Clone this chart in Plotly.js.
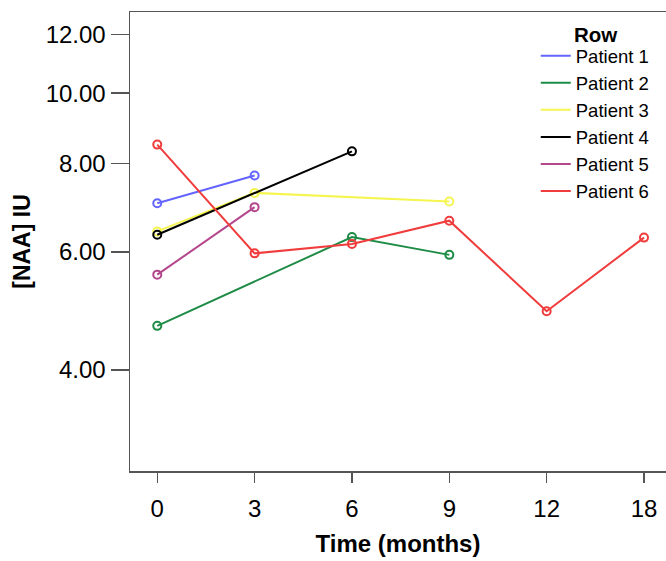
<!DOCTYPE html>
<html>
<head>
<meta charset="utf-8">
<script src="https://cdn.plot.ly/plotly-3.0.1.min.js"></script>
<style>html,body{margin:0;padding:0;background:#fff;}#chart{width:666px;height:561px;}</style>
</head>
<body>
<div id="chart"></div>
<script>
// Time categories (months)
const timeCats = ["0", "3", "6", "9", "12", "18"];

// Series: [NAA] IU per patient at each time point
const p1Times = ["0", "3"];
const p1Vals  = [7.04, 7.70];
const p2Times = ["0", "6", "9"];
const p2Vals  = [4.67, 6.30, 5.94];
const p3Times = ["0", "3", "9"];
const p3Vals  = [6.42, 7.28, 7.08];
const p4Times = ["0", "6"];
const p4Vals  = [6.35, 8.32];
const p5Times = ["0", "3"];
const p5Vals  = [5.56, 6.95];
const p6Times = ["0", "3", "6", "9", "12", "18"];
const p6Vals  = [8.50, 5.97, 6.16, 6.65, 4.91, 6.29];

const names = ["Patient 1", "Patient 2", "Patient 3", "Patient 4", "Patient 5", "Patient 6"];
const colors = ["#6464ff", "#1e8c46", "#f5f550", "#000000", "#b4468c", "#f03c3c"];

// Y tick labels
const yTickVals = [4, 6, 8, 10, 12];
const yTickText = ["4.00", "6.00", "8.00", "10.00", "12.00"];

// The original uses a "safe log" scale: position ~ log(1 + value).
const safe = v => v + 1;

const series = [
  [p1Times, p1Vals], [p2Times, p2Vals], [p3Times, p3Vals],
  [p4Times, p4Vals], [p5Times, p5Vals], [p6Times, p6Vals]
];

const traces = [];
series.forEach((s, i) => {
  traces.push({
    type: "scatter", mode: "lines+markers",
    x: s[0], y: s[1].map(safe), customdata: s[1],
    name: names[i], legendgroup: names[i], showlegend: false,
    line: {color: colors[i], width: 2},
    marker: {symbol: "circle-open", size: 8, color: colors[i], line: {width: 2, color: colors[i]}},
    hovertemplate: "%{x}: %{customdata:.2f}<extra>" + names[i] + "</extra>"
  });
});
// legend entries (line only)
series.forEach((s, i) => {
  traces.push({
    type: "scatter", mode: "lines", x: [timeCats[0]], y: [null],
    name: names[i], legendgroup: names[i], showlegend: true,
    line: {color: colors[i], width: 2}, hoverinfo: "skip"
  });
});

const layout = {
  width: 666, height: 561,
  margin: {l: 130, r: 0, t: 12, b: 90},
  paper_bgcolor: "#ffffff", plot_bgcolor: "#ffffff",
  font: {family: "Liberation Sans, Arial, sans-serif", color: "#000"},
  showlegend: true,
  legend: {
    x: 0.757, y: 0.945, xanchor: "left", yanchor: "top",
    font: {size: 18.5, color: "#000"},
    bgcolor: "rgba(0,0,0,0)", borderwidth: 0,
    tracegroupgap: 0, itemwidth: 30
  },
  annotations: [{
    text: "<b>Row</b>", xref: "paper", yref: "paper",
    x: 0.825, y: 0.98, xanchor: "left", yanchor: "top",
    showarrow: false, font: {size: 20.5, color: "#000"}
  }],
  xaxis: {
    type: "category", categoryorder: "array", categoryarray: timeCats,
    range: [-0.28, 5.226],
    showline: true, linecolor: "#555", linewidth: 1.5, mirror: true,
    showgrid: false, zeroline: false,
    ticks: "outside", ticklen: 10, tickwidth: 1.5, tickcolor: "#555",
    ticklabelstandoff: 6,
    tickfont: {size: 24, color: "#000"},
    title: {text: "<b>Time (months)</b>", font: {size: 24, color: "#000"}, standoff: 14}
  },
  yaxis: {
    type: "log",
    range: [Math.log10(safe(2.75)), Math.log10(safe(12.86))],
    tickvals: yTickVals.map(safe), ticktext: yTickText,
    showline: true, linecolor: "#555", linewidth: 1.5, mirror: false,
    showgrid: false, zeroline: false,
    ticks: "outside", ticklen: 18, tickwidth: 1.5, tickcolor: "#555",
    tickfont: {size: 24, color: "#000"},
    title: {text: "<b>[NAA] IU</b>", font: {size: 23, color: "#000"}, standoff: 8}
  }
};

Plotly.newPlot("chart", traces, layout, {displayModeBar: false, staticPlot: true});
</script>
</body>
</html>
